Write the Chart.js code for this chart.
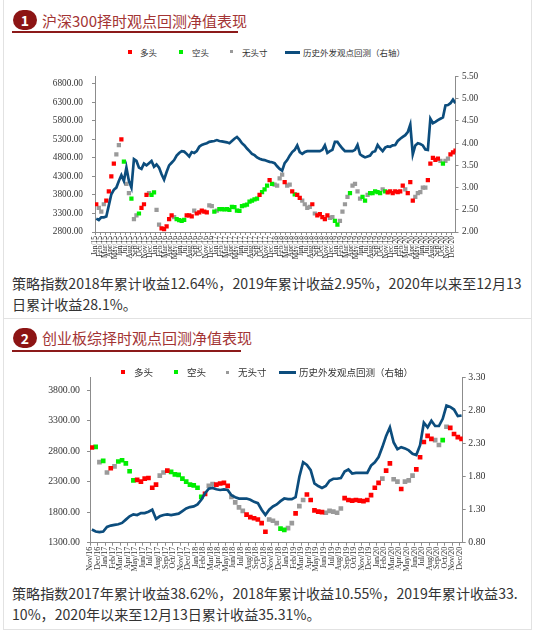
<!DOCTYPE html>
<html>
<head>
<meta charset="utf-8">
<script src="https://cdn.jsdelivr.net/npm/chart.js@4.4.1/dist/chart.umd.min.js"></script>
<style>
html, body { margin: 0; padding: 0; background: #fff; }
body { width: 550px; height: 631px; position: relative; overflow: hidden; font-family: "Noto Sans CJK SC", sans-serif; }
.frame { position: absolute; left: 3px; top: 0; width: 527px; height: 629px; border-left: 1px solid #e2e2e2; border-right: 1px solid #e2e2e2; border-bottom: 1px solid #e2e2e2; }
.sep { position: absolute; left: 4px; width: 527px; height: 1px; background: #e2e2e2; }
.badge { position: absolute; left: 13px; width: 24px; height: 20px; background: #8c1414; border-radius: 10px 10px 10px 10px; color: #fff; font: bold 14px/20px "Noto Sans CJK SC", sans-serif; text-align: center; }
.title { position: absolute; left: 42px; color: #a33434; font-size: 15px; line-height: 20px; white-space: nowrap; }
.uline { position: absolute; left: 12px; height: 2px; background: #8c1a1a; }
.txt { position: absolute; left: 12px; color: #333; font-size: 14.1px; line-height: 21px; white-space: nowrap; }
.lg { position: absolute; line-height: 12px; color: #333; white-space: nowrap; z-index: 2; }
.mk { position: absolute; z-index: 2; }
canvas { position: absolute; left: 0; }
</style>
</head>
<body>
<div class="frame"></div>

<div class="badge" style="top:10px">1</div>
<div class="title" style="top:11px">沪深300择时观点回测净值表现</div>
<div class="uline" style="top:31px;width:226px"></div>

<canvas id="hsChart" width="530" height="200" style="top:62px"></canvas>
<div class="mk" style="left:128px;top:50px;width:4px;height:4px;background:#ff0000"></div>
<div class="lg" style="left:140px;top:46px;font-size:8.5px">多头</div>
<div class="mk" style="left:179px;top:50px;width:4px;height:4px;background:#00ee00"></div>
<div class="lg" style="left:192px;top:46px;font-size:8.5px">空头</div>
<div class="mk" style="left:230px;top:50px;width:3px;height:3px;background:#9a9a9a"></div>
<div class="lg" style="left:242px;top:46px;font-size:8.5px">无头寸</div>
<div class="mk" style="left:285px;top:51px;width:15px;height:2.5px;background:#0c4d7d"></div>
<div class="lg" style="left:303px;top:46px;font-size:8.5px">历史外发观点回测（右轴）</div>

<div class="txt" style="top:273px">策略指数2018年累计收益12.64%，2019年累计收益2.95%，2020年以来至12月13<br>日累计收益28.1%。</div>
<div class="sep" style="top:318px"></div>

<div class="badge" style="top:328px">2</div>
<div class="title" style="top:328px">创业板综择时观点回测净值表现</div>
<div class="uline" style="top:350px;width:229px"></div>

<canvas id="cyChart" width="530" height="215" style="top:365px"></canvas>
<div class="mk" style="left:121px;top:370px;width:4px;height:4px;background:#ff0000"></div>
<div class="lg" style="left:134px;top:366px;font-size:9.5px">多头</div>
<div class="mk" style="left:174px;top:370px;width:4px;height:4px;background:#00ee00"></div>
<div class="lg" style="left:187px;top:366px;font-size:9.5px">空头</div>
<div class="mk" style="left:226px;top:370.5px;width:3px;height:3px;background:#9a9a9a"></div>
<div class="lg" style="left:238px;top:366px;font-size:9.5px">无头寸</div>
<div class="mk" style="left:279px;top:371px;width:17px;height:2.5px;background:#0c4d7d"></div>
<div class="lg" style="left:299px;top:366px;font-size:9.5px">历史外发观点回测（右轴）</div>

<div class="txt" style="top:583px">策略指数2017年累计收益38.62%，2018年累计收益10.55%，2019年累计收益33.<br>10%，2020年以来至12月13日累计收益35.31%。</div>

<script>
// ---- 沪深300 (half-month samples, Jan/15 .. Dec/20) ----
const hsMonths = [
  'Jan/15','Feb/15','Mar/15','Apr/15','May/15','Jun/15','Jul/15','Aug/15','Sep/15','Oct/15','Nov/15','Dec/15',
  'Jan/16','Feb/16','Mar/16','Apr/16','May/16','Jun/16','Jul/16','Aug/16','Sep/16','Oct/16','Nov/16','Dec/16',
  'Jan/17','Feb/17','Mar/17','Apr/17','May/17','Jun/17','Jul/17','Aug/17','Sep/17','Oct/17','Nov/17','Dec/17',
  'Jan/18','Feb/18','Mar/18','Apr/18','May/18','Jun/18','Jul/18','Aug/18','Sep/18','Oct/18','Nov/18','Dec/18',
  'Jan/19','Feb/19','Mar/19','Apr/19','May/19','Jun/19','Jul/19','Aug/19','Sep/19','Oct/19','Nov/19','Dec/19',
  'Jan/20','Feb/20','Mar/20','Apr/20','May/20','Jun/20','Jul/20','Aug/20','Sep/20','Oct/20','Nov/20','Dec/20'
];
const hsIndex = [
  3550,3450,3350,3550,3650,3900,4300,4650,4900,5150,
  5300,4700,4100,3850,3700,3150,3250,3300,3450,3550,
  3800,3850,3800,3870,3400,3000,2900,2880,2950,3150,
  3250,3200,3150,3120,3100,3130,3250,3250,3220,3380,
  3300,3330,3380,3350,3330,3520,3500,3350,3380,3420,
  3420,3410,3420,3400,3480,3470,3380,3370,3500,3520,
  3540,3620,3650,3680,3700,3800,3880,3950,4050,4200,
  4100,4080,4050,4250,4350,4150,4050,4080,3900,3820,
  3800,3720,3650,3550,3450,3480,3550,3300,3250,3280,
  3200,3150,3250,3180,3200,3100,3000,3100,3350,3550,
  3750,3850,4050,4100,3900,3700,3750,3650,3800,3850,
  3850,3900,3880,3850,3950,3900,3870,3900,3850,3900,
  3880,3900,4050,3950,3850,4150,3650,3750,3850,3880,
  4000,4000,4200,4650,4800,4750,4780,4720,4650,4720,
  4780,4900,4950,5000
];
// L = 多头, S = 空头, N = 无头寸
const hsSignal =
  'LNNNLLLLNN' + 'LSNNSNNSLL' + 'LNSSNNLLLL' + 'LNSSSSLLLN' + 'LLLLLNNSNS' +
  'SSSSSSSSSS' + 'SSSSSLSSSL' + 'SNNNNLNNLS' + 'LLNNNNLNLL' + 'LLLNNSSNNN' +
  'NSNNNNSSNS' + 'SSSSNSLLLL' + 'LLLNLLLNNN' + 'NNLLLLLNSN' + 'NLLL';
const hsNav = [
  2.30,2.27,2.33,2.33,2.35,2.60,2.85,2.95,3.00,3.15,
  3.28,3.15,3.45,3.15,3.00,3.64,3.60,3.45,3.42,3.54,
  3.50,3.55,3.60,3.47,3.52,3.45,3.30,3.18,3.35,3.50,
  3.56,3.62,3.72,3.78,3.82,3.81,3.76,3.70,3.80,3.78,
  3.82,3.92,3.96,3.98,4.00,4.03,4.04,4.05,4.07,4.05,
  4.04,4.03,4.02,4.00,4.05,4.10,4.14,4.08,4.00,3.95,
  3.88,3.82,3.76,3.73,3.68,3.65,3.63,3.62,3.60,3.58,
  3.57,3.55,3.48,3.42,3.38,3.55,3.62,3.72,3.80,3.85,
  3.95,3.80,3.76,3.80,3.82,3.82,3.82,3.82,3.82,3.82,
  3.85,3.95,3.78,3.82,3.85,4.03,4.03,3.95,3.88,3.82,
  3.82,3.82,3.82,3.85,3.96,3.75,3.71,3.68,3.70,3.72,
  3.80,3.82,3.96,3.88,3.82,3.90,3.93,3.92,3.95,3.96,
  4.05,4.10,4.14,4.18,4.25,4.42,3.75,3.95,4.00,3.98,
  3.95,3.86,3.85,4.55,4.45,4.48,4.52,4.55,4.58,4.85,
  4.86,4.90,4.98,4.90
];
const hsLeftTicks = [2800, 3300, 3800, 4300, 4800, 5300, 5800, 6300, 6800];
const hsRightTicks = [2.0, 2.5, 3.0, 3.5, 4.0, 4.5, 5.0, 5.5];

// ---- 创业板综 (half-month samples, Nov/16 .. Dec/20) ----
const cyMonths = [
  'Nov/16','Dec/16',
  'Jan/17','Feb/17','Mar/17','Apr/17','May/17','Jun/17','Jul/17','Aug/17','Sep/17','Oct/17','Nov/17','Dec/17',
  'Jan/18','Feb/18','Mar/18','Apr/18','May/18','Jun/18','Jul/18','Aug/18','Sep/18','Oct/18','Nov/18','Dec/18',
  'Jan/19','Feb/19','Mar/19','Apr/19','May/19','Jun/19','Jul/19','Aug/19','Sep/19','Oct/19','Nov/19','Dec/19',
  'Jan/20','Feb/20','Mar/20','Apr/20','May/20','Jun/20','Jul/20','Aug/20','Sep/20','Oct/20','Nov/20','Dec/20'
];
const cyIndex = [
  2860,2870,2620,2640,2450,2520,2550,2630,2650,2600,
  2470,2320,2330,2300,2350,2360,2200,2250,2400,2450,
  2480,2460,2420,2410,2350,2300,2250,2240,2200,2050,
  2100,2230,2260,2250,2270,2280,2230,2050,1960,1880,
  1820,1760,1720,1700,1680,1620,1480,1680,1660,1620,
  1530,1510,1540,1620,1780,1900,2000,2090,2000,1830,
  1810,1800,1790,1820,1810,1790,1860,2030,2000,1990,
  2000,1990,1980,2000,2080,2200,2280,2350,2480,2600,
  2340,2300,2180,2300,2320,2400,2500,2700,2950,3050,
  3000,2980,2900,2980,3200,3180,3080,3030,3000
];
const cySignal =
  'LSNSNLNSSS' + 'SSLLLLLLNN' + 'LSSSSSSSSS' + 'LNNLLLLNNN' + 'NLLLLLLNNN' +
  'SSNNLNNLLL' + 'LLNNNNNLLL' + 'LLLLLLLNLL' + 'NNLNNNLLLL' + 'LNNSNLLLL';
const cyNav = [
  1.00,0.97,0.96,0.97,1.04,1.06,1.07,1.08,1.10,1.15,
  1.20,1.23,1.22,1.25,1.25,1.27,1.30,1.16,1.20,1.22,
  1.23,1.22,1.23,1.24,1.28,1.32,1.34,1.35,1.38,1.45,
  1.55,1.62,1.63,1.61,1.60,1.61,1.60,1.52,1.49,1.47,
  1.47,1.47,1.45,1.42,1.40,1.30,1.22,1.30,1.35,1.38,
  1.43,1.47,1.46,1.46,1.49,1.80,2.02,1.98,1.90,1.70,
  1.66,1.63,1.66,1.74,1.77,1.77,1.78,1.88,1.91,1.85,
  1.86,1.86,1.86,1.86,1.97,2.02,2.10,2.25,2.42,2.55,
  2.32,2.22,2.25,2.23,2.20,2.15,2.13,2.28,2.62,2.55,
  2.65,2.57,2.57,2.68,2.88,2.86,2.82,2.72,2.73
];
const cyLeftTicks = [1300, 1800, 2300, 2800, 3300, 3800];
const cyRightTicks = [0.8, 1.3, 1.8, 2.3, 2.8, 3.3];

const signalStyle = {
  L: { label: '多头', color: '#ff0000' },
  S: { label: '空头', color: '#00ee00' },
  N: { label: '无头寸', color: '#9a9a9a' }
};
const axisColor = '#8c8c8c';

function buildChart(canvasId, o) {
  // each sample sits in the middle of its half month
  const xs = o.index.map((_, i) => i * 0.5 + 0.25);
  const dots = ['L', 'S', 'N'].map(code => ({
    type: 'scatter',
    label: signalStyle[code].label,
    data: o.index.map((v, i) => ({ x: xs[i], y: v })).filter((p, i) => o.signal[i] === code),
    yAxisID: 'y',
    pointStyle: 'rect',
    pointRadius: o.dot,
    pointBorderWidth: 0,
    backgroundColor: signalStyle[code].color,
    borderColor: signalStyle[code].color,
    order: 2
  }));
  const line = {
    type: 'line',
    label: '历史外发观点回测（右轴）',
    data: o.nav.map((v, i) => ({ x: xs[i], y: v })),
    yAxisID: 'y1',
    borderColor: '#0c4d7d',
    borderWidth: 2.7,
    pointRadius: 0,
    tension: 0,
    order: 1
  };
  const numFont = { family: 'Liberation Serif', size: o.tickSize };
  return new Chart(document.getElementById(canvasId), {
    type: 'scatter',
    data: { datasets: [...dots, line] },
    options: {
      responsive: false,
      animation: false,
      devicePixelRatio: 1,
      layout: { padding: { top: o.padTop, left: 0, right: 0, bottom: 0 } },
      plugins: { legend: { display: false }, tooltip: { enabled: false } },
      scales: {
        x: {
          type: 'linear', min: 0, max: o.xMax,
          grid: { drawOnChartArea: false, color: axisColor, tickLength: 3 },
          border: { color: axisColor },
          ticks: {
            autoSkip: false, minRotation: 90, maxRotation: 90, padding: 1,
            color: '#333', font: { family: 'Liberation Serif', size: o.xSize },
            callback: (v, k) => o.months[k]
          },
          afterBuildTicks: s => { s.ticks = o.months.map((_, k) => ({ value: k })); },
          afterFit: s => { s.height = o.xH; }
        },
        y: {
          position: 'left', min: o.leftTicks[0], max: o.leftMax,
          grid: { drawOnChartArea: false, color: axisColor, tickLength: 3 },
          border: { color: axisColor },
          ticks: { color: '#333', font: numFont, padding: o.leftPad, callback: v => v.toFixed(2) },
          afterBuildTicks: s => { s.ticks = o.leftTicks.map(v => ({ value: v })); },
          afterFit: s => { s.width = o.leftW; }
        },
        y1: {
          position: 'right', min: o.rightTicks[0], max: o.rightTicks[o.rightTicks.length - 1],
          grid: { drawOnChartArea: false, color: axisColor, tickLength: 3 },
          border: { color: axisColor },
          ticks: { color: '#333', font: numFont, padding: o.rightPad, callback: v => v.toFixed(2) },
          afterBuildTicks: s => { s.ticks = o.rightTicks.map(v => ({ value: v })); },
          afterFit: s => { s.width = o.rightW; }
        }
      }
    }
  });
}

buildChart('hsChart', {
  months: hsMonths, index: hsIndex, signal: hsSignal, nav: hsNav,
  leftTicks: hsLeftTicks, leftMax: 7000, rightTicks: hsRightTicks,
  xMax: 71.75, padTop: 5.5, leftW: 95, rightW: 74.5, xH: 30,
  tickSize: 9.3, xSize: 7.5, leftPad: 9, rightPad: 3.5, dot: 3.0
});

buildChart('cyChart', {
  months: cyMonths, index: cyIndex, signal: cySignal, nav: cyNav,
  leftTicks: cyLeftTicks, leftMax: 4000, rightTicks: cyRightTicks,
  xMax: 49.4, padTop: 7.5, leftW: 90, rightW: 67.3, xH: 37.3,
  tickSize: 9.8, xSize: 8, leftPad: 7, rightPad: 2.6, dot: 3.3
});
</script>
</body>
</html>
